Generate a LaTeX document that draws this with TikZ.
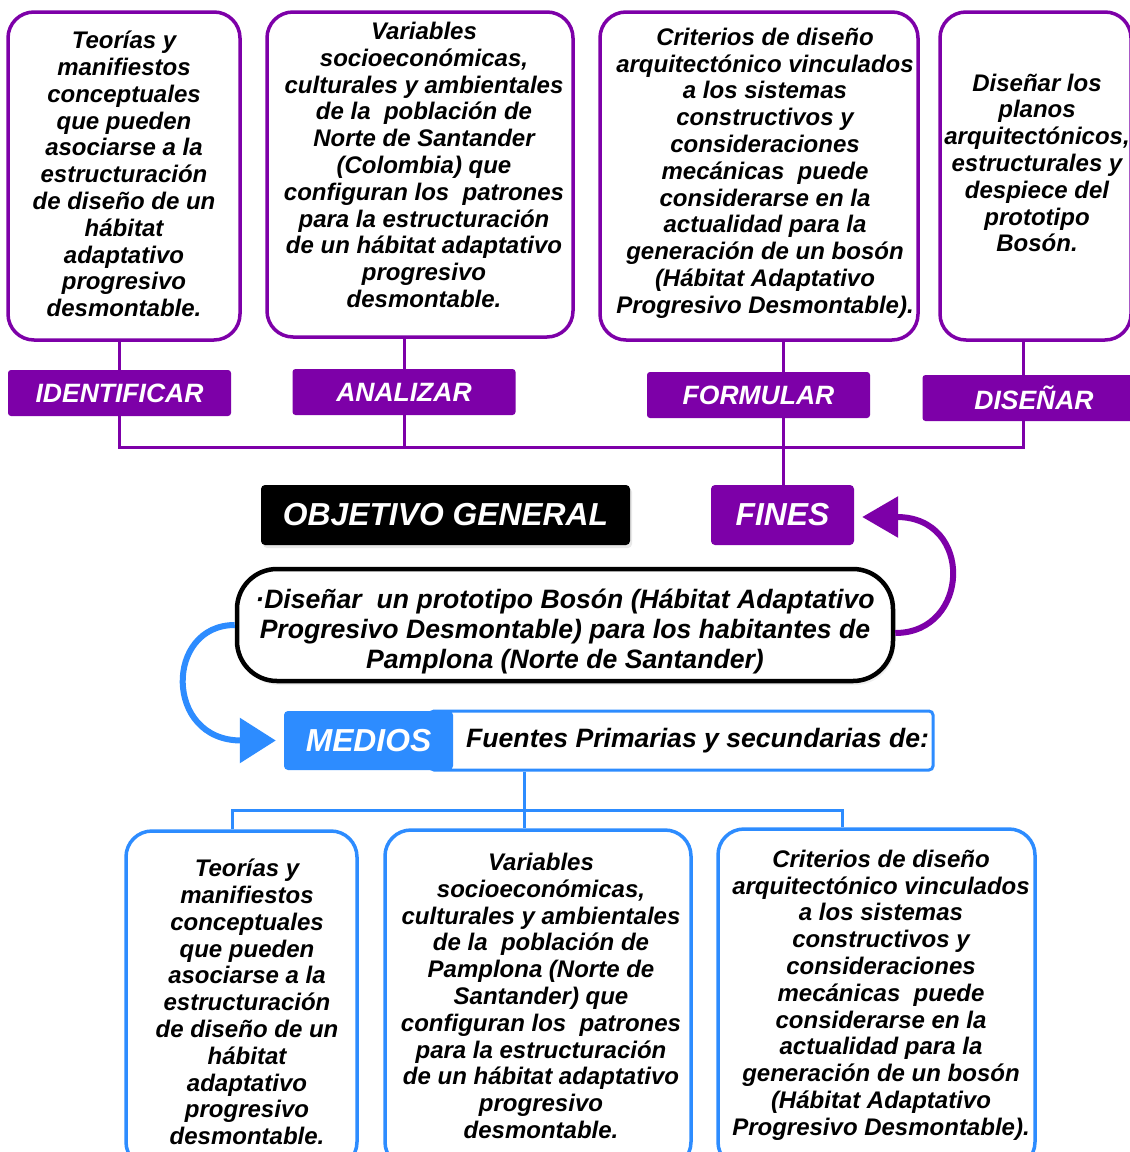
\documentclass[tikz,border=0pt]{standalone}
\usepackage{fontspec}
\setmainfont{Liberation Sans}
\usetikzlibrary{arrows.meta,shadows,calc}
\definecolor{morado}{RGB}{125,0,168}
\definecolor{azul}{RGB}{45,140,255}

\begin{document}
\begin{tikzpicture}[x=1pt,y=-1pt,
  cajam/.style={draw=morado,line width=3.5pt,rounded corners=26pt,fill=white,inner sep=0pt},
  cajaa/.style={draw=azul,line width=3.5pt,rounded corners=26pt,fill=white,inner sep=0pt},
  txt/.style={align=center,inner sep=0pt,font=\fontsize{24}{26.8}\selectfont\bfseries\itshape},
  etiq/.style={fill=morado,text=white,rounded corners=3pt,minimum width=223pt,minimum height=46pt,
    inner sep=0pt,font=\fontsize{26.5}{30}\selectfont\bfseries\itshape},
  grande/.style={text=white,rounded corners=4pt,minimum height=60pt,inner sep=0pt,
    font=\fontsize{31.8}{36}\selectfont\bfseries\itshape},
  lm/.style={draw=morado,line width=3pt},
  lb/.style={draw=azul,line width=3pt},
  flecha/.style={line width=6pt},
]
\useasboundingbox (0,0) rectangle (1130,1152);
\fill[white] (0,0) rectangle (1130,1152);

% ---------- top row: purposes ----------
\node[cajam,minimum width=232pt,minimum height=328pt] (c1) at (124,176) {};
\node[cajam,minimum width=306pt,minimum height=325pt] (c2) at (420,174.5) {};
\node[cajam,minimum width=318pt,minimum height=328pt] (c3) at (759,176) {};
\node[cajam,minimum width=191pt,minimum height=328pt] (c4) at (1035.5,176) {};

\node[txt] (c1t) at (124,174) {Teorías y\\manifiestos\\conceptuales\\que pueden\\asociarse a la\\estructuración\\de diseño de un\\hábitat\\adaptativo\\progresivo\\desmontable.};
\node[txt] (c2t) at (424,165) {Variables\\socioeconómicas,\\culturales y ambientales\\de la~ población de\\Norte de Santander\\(Colombia) que\\configuran los~ patrones\\para la estructuración\\de un hábitat adaptativo\\progresivo\\desmontable.};
\node[txt] (c3t) at (765,173) {Criterios de diseño\\arquitectónico vinculados\\a los sistemas\\constructivos y\\consideraciones\\mecánicas~ puede\\considerarse en la\\actualidad para la\\generación de un bosón\\(Hábitat Adaptativo\\Progresivo Desmontable).};
\node[txt] (c4t) at (1037,163) {Diseñar los\\planos\\arquitectónicos,\\estructurales y\\despiece del\\prototipo\\Bosón.};

\node[etiq] (e1) at (119.5,393) {IDENTIFICAR};
\node[etiq] (e2) at (404,392) {ANALIZAR};
\node[etiq] (e3) at (758.5,395) {FORMULAR};
\node[etiq] (e4) at (1034,398) {DISEÑAR};

% ---------- middle: general objective ----------
\node[grande,fill=black,minimum width=369pt,
  drop shadow={shadow xshift=2pt,shadow yshift=-3pt,opacity=0.18}] (obj) at (445.5,515) {OBJETIVO GENERAL};
\node[grande,fill=morado,minimum width=143pt] (fines) at (782.5,515) {FINES};

\node[draw=black,line width=4.5pt,rounded corners=40pt,fill=white,minimum width=656pt,minimum height=112pt,
  inner sep=0pt,drop shadow={shadow xshift=2pt,shadow yshift=-4pt,opacity=0.12}] (og) at (565,625) {};
\node[align=center,inner sep=0pt,font=\fontsize{26.6}{30}\selectfont\bfseries\itshape] (ogt) at (565,631)
  {·Diseñar~ un prototipo Bosón (Hábitat Adaptativo\\Progresivo Desmontable) para los habitantes de\\Pamplona (Norte de Santander)};

\node[draw=azul,line width=3pt,rounded corners=4pt,fill=white,minimum width=503pt,minimum height=59pt,inner sep=0pt] (fuentes) at (681.5,740.5) {};
\node[anchor=west,inner sep=0pt,font=\fontsize{26.6}{30}\selectfont\bfseries\itshape] (ftxt) at (466,741) {Fuentes Primarias y secundarias de:};
\node[grande,fill=azul,minimum width=169pt,minimum height=59pt] (medios) at (368.5,740.5) {MEDIOS};

% ---------- bottom row: means ----------
\node[cajaa,minimum width=231pt,minimum height=337pt] (b1) at (241.5,999.5) {};
\node[cajaa,minimum width=306pt,minimum height=338pt] (b2) at (538,999) {};
\node[cajaa,minimum width=317pt,minimum height=339pt] (b3) at (876.5,998.5) {};

\node[txt] (b1t) at (247,1002) {Teorías y\\manifiestos\\conceptuales\\que pueden\\asociarse a la\\estructuración\\de diseño de un\\hábitat\\adaptativo\\progresivo\\desmontable.};
\node[txt] (b2t) at (541,996) {Variables\\socioeconómicas,\\culturales y ambientales\\de la~ población de\\Pamplona (Norte de\\Santander) que\\configuran los~ patrones\\para la estructuración\\de un hábitat adaptativo\\progresivo\\desmontable.};
\node[txt] (b3t) at (881,995) {Criterios de diseño\\arquitectónico vinculados\\a los sistemas\\constructivos y\\consideraciones\\mecánicas~ puede\\considerarse en la\\actualidad para la\\generación de un bosón\\(Hábitat Adaptativo\\Progresivo Desmontable).};

% ---------- connectors ----------
\coordinate (bus1) at (119.5,447);
\coordinate (bus2) at (404,447);
\coordinate (bus3) at (783,447);
\coordinate (bus4) at (1023,447);
\draw[lm] (c1.south -| e1) -- (e1.north);
\draw[lm] (c2.south -| e2) -- (e2.north);
\draw[lm] (c3.south -| bus3) -- (e3.north -| bus3);
\draw[lm] (c4.south -| bus4) -- (e4.north -| bus4);
\draw[lm] (e1.south) -- (bus1) -- (bus4) -- (e4.south -| bus4);
\draw[lm] (e2.south) -- (bus2);
\draw[lm] (e3.south -| bus3) -- (fines.north -| bus3);

\coordinate (mb) at (524,810);
\coordinate (ml) at (232,810);
\coordinate (mr) at (842,810);
\draw[lb] (fuentes.south -| mb) -- (b2.north -| mb);
\draw[lb] (b1.north -| ml) -- (ml) -- (mr) -- (b3.north -| mr);

% curved arrows
\coordinate (pa) at ([yshift=-8pt]og.east);
\coordinate (pb) at ([xshift=8pt,yshift=-2pt]fines.east);
\draw[flecha,morado,-{Triangle[length=36pt,width=40pt]}]
  (pa) .. controls ($(pa)+(75,0)$) and ($(pb)+(112,0)$) .. (pb);
\coordinate (qa) at (og.west);
\coordinate (qb) at ([xshift=-8pt]medios.west);
\draw[flecha,azul,-{Triangle[length=36pt,width=44pt]}]
  (qa) .. controls ($(qa)+(-70,0)$) and ($(qb)+(-112,0)$) .. (qb);
\end{tikzpicture}
\end{document}
